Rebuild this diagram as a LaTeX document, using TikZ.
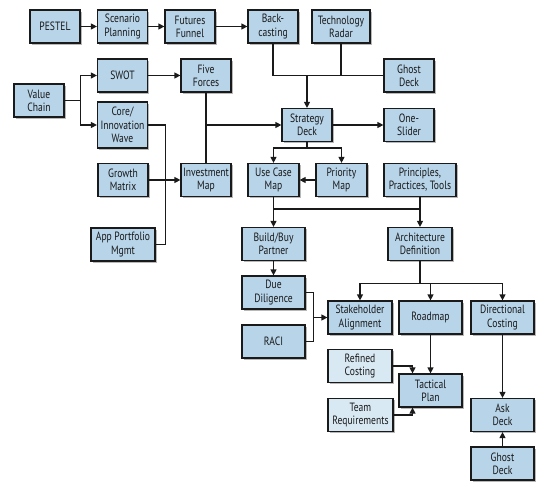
\documentclass[tikz,border=0pt]{standalone}
\usepackage{fontspec}
\setmainfont{PT Sans}[FakeStretch=0.8]
\usetikzlibrary{shadows,arrows.meta,calc}
\definecolor{boxfill}{HTML}{B7D4E9}
\definecolor{boxlight}{HTML}{D9E9F4}
\definecolor{edge}{HTML}{1A1A1A}
\tikzset{
  box/.style={draw=edge, line width=1.2pt, fill=boxfill, align=center, inner sep=0pt,
    text=black!90, font=\fontsize{12}{13.2}\selectfont,
    drop shadow={shadow xshift=1.6pt, shadow yshift=-1.6pt, fill=black, opacity=0.28}},
  lightbox/.style={box, fill=boxlight},
  w50/.style={minimum width=50pt},
  w64/.style={minimum width=63pt},
  h33/.style={minimum height=33pt},
  conn/.style={draw=edge, line width=1.2pt},
  arr/.style={conn, -{Triangle[length=6pt,width=6pt]}}
}
\begin{document}
\begin{tikzpicture}[x=1pt,y=-1pt]
\useasboundingbox (0,0) rectangle (551,494);
% row 1
\node[box,w50,h33] (pestel) at (55,26.5) {PESTEL};
\node[box,w50,h33] (scen) at (122.5,26.5) {Scenario\\Planning};
\node[box,w50,h33] (fun) at (190,26.5) {Futures\\Funnel};
\node[box,w50,h33] (back) at (273,26.5) {Back-\\casting};
\node[box,minimum width=58pt,h33] (tech) at (341,26.5) {Technology\\Radar};
\node[box,w50,h33] (ghost1) at (409,75.5) {Ghost\\Deck};
% left
\node[box,w50,h33] (vc) at (39,100.5) {Value\\Chain};
\node[box,w50,h33] (swot) at (122.5,75.5) {SWOT};
\node[box,w50,minimum height=46pt] (core) at (122.5,125) {Core/\\Innovation\\Wave};
\node[box,w50,h33] (five) at (206,75.5) {Five\\Forces};
\node[box,w50,h33] (strat) at (307,125) {Strategy\\Deck};
\node[box,w50,h33] (one) at (409,125) {One-\\Slider};
\node[box,w50,h33] (growth) at (123,180) {Growth\\Matrix};
\node[box,w50,h33] (inv) at (206,180) {Investment\\Map};
\node[box,minimum width=64pt,h33] (app) at (123,244.5) {App Portfolio\\Mgmt};
% middle
\node[box,minimum width=51pt,h33] (use) at (273.5,180) {Use Case\\Map};
\node[box,minimum width=51pt,h33] (prio) at (341.5,180) {Priority\\Map};
\node[box,minimum width=72pt,h33] (ppt) at (420,180) {Principles,\\Practices, Tools};
\node[box,w64,h33] (build) at (273.5,244) {Build/Buy\\Partner};
\node[box,minimum width=64pt,h33] (arch) at (420,244) {Architecture\\Definition};
\node[box,w64,h33] (due) at (273.5,292.5) {Due\\Diligence};
\node[box,w64,h33] (raci) at (273.5,341.5) {RACI};
\node[box,minimum width=64pt,h33] (stake) at (360,317.5) {Stakeholder\\Alignment};
\node[box,w64,h33] (road) at (430.5,317.5) {Roadmap};
\node[box,w64,h33] (dir) at (502.5,317.5) {Directional\\Costing};
\node[lightbox,minimum width=64pt,h33] (ref) at (360,366) {Refined\\Costing};
\node[lightbox,minimum width=65pt,h33] (team) at (360.5,415) {Team\\Requirements};
\node[box,w64,h33] (tac) at (430.5,390.5) {Tactical\\Plan};
\node[box,w64,h33] (ask) at (502.5,415) {Ask\\Deck};
\node[box,w64,h33] (ghost2) at (502.5,463.5) {Ghost\\Deck};
% connectors row 1
\draw[arr] (pestel) -- (scen);
\draw[arr] (scen) -- (fun);
\draw[arr] (fun) -- (back);
\draw[conn] (back.south) |- (ghost1.west);
\draw[conn] (tech.south) -- (tech.south |- ghost1.west);
\draw[arr] (strat.north |- ghost1.west) -- (strat.north);
% value chain
\draw[conn] (vc.east) -- ++(16,0) coordinate (vcj);
\draw[arr] (vcj) |- (swot.west);
\draw[arr] (vcj) |- (core.west);
\draw[arr] (swot) -- (five);
\draw[conn] (five.south) -- (inv.north);
\draw[arr] (five.south |- strat.west) -- (strat.west);
\draw[conn] (core.east) -| ($(app.east)+(10,0)$) -- (app.east);
\draw[arr] (growth) -- (inv);
\draw[arr] (strat) -- (one);
% strategy to maps
\draw[conn] (strat.south) -- ++(0,6) coordinate (sj);
\draw[arr] (sj) -| (use.north);
\draw[arr] (sj) -| (prio.north);
\draw[arr] (prio) -- (use);
\draw[arr] (use.south) -- (build.north);
\draw[arr] (ppt.south) -- (arch.north);
\draw[conn] ($(use.south)+(0,12)$) -- ($(ppt.south)+(0,12)$);
\draw[arr] (build) -- (due);
% due/raci to stakeholder
\draw[conn] (due.east) -- ++(8,0) coordinate (dj) |- (raci.east);
\draw[arr] (dj |- stake.west) -- (stake.west);
% architecture fan-out
\draw[conn] (arch.south) -- ++(0,22) coordinate (aj);
\draw[arr] (aj) -| (stake.north);
\draw[arr] (aj) -| (road.north);
\draw[arr] (aj) -| (dir.north);
\draw[arr] (road) -- (tac);
\draw[arr] (ref.east) -| ($(tac.north)+(-18,0)$);
\draw[arr] (team.east) -| ($(tac.south)+(-18,0)$);
\draw[arr] (dir.south) -- (ask.north);
\draw[conn] ($(tac.east)+(0,-7)$) -- ($(tac.east)+(0,-7)$ -| ask.north);
\draw[arr] (ghost2) -- (ask);
\end{tikzpicture}
\end{document}
